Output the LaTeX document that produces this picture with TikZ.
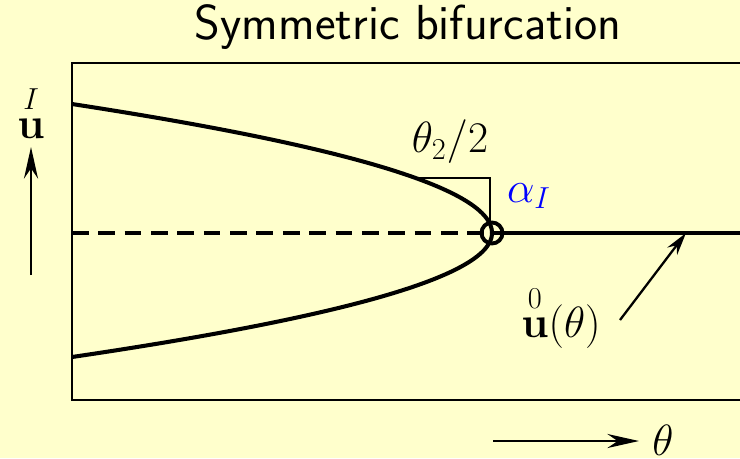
\documentclass[tikz,border=0pt]{standalone}
\usepackage{amsmath,amssymb}
\usepackage{xcolor}
\usepackage{tikz}
\usetikzlibrary{arrows.meta, positioning}
\definecolor{paper}{RGB}{255,255,204}

\begin{document}
\begin{tikzpicture}[x=0.02cm, y=-0.02cm, font=\fontsize{27}{31}\selectfont,
	branch/.style={line width=2.3pt},
	thin/.style={line width=1.3pt},
	bigarrow/.style={thin, -{Stealth[length=18pt, width=8pt]}}]
	\fill[paper] (0,0) rectangle (740,458);
	\useasboundingbox (0,0) rectangle (740,458);
	\node (title) at (408,27) {\fontsize{28}{32}\selectfont\sffamily Symmetric bifurcation};
	\draw[thin] (72,63) rectangle (750,400);
	% trivial branch
	\coordinate (alpha) at (492,233);
	\coordinate (right) at (750,233);
	\coordinate (left) at (72,233);
	\draw[branch, dash pattern=on 9.5pt off 5.5pt] (left) -- (alpha);
	\draw[branch] (alpha) -- (right);
	% bifurcated branches
	\draw[branch] plot[smooth, samples=60, domain=-1:0] ({492-420*\x*\x},{233+129*\x});
	\draw[branch] plot[smooth, samples=60, domain=0:1] ({492-420*\x*\x},{233+124*\x});
	\draw[line width=2.2pt] (alpha) circle (10.5);
	% slope
	\coordinate (s1) at (415,178);
	\coordinate (s2) at (490,178);
	\coordinate (s3) at (490,226);
	\draw[thin] (s1) -- (s2) -- (s3);
	\node (slope) at (450,142) {$\theta_2/2$};
	\node[blue] (alphaI) at (529,196) {$\alpha_I$};
	% labels
	\coordinate (ptail) at (620,320);
	\coordinate (phead) at (686,233);
	\draw[thin, -{Stealth[length=13pt, width=7pt]}] (ptail) -- (phead);
	\node (u0) at (561,316) {$\overset{0}{\mathbf{u}}(\theta)$};
	\coordinate (ya) at (31,275);
	\coordinate (yb) at (31,147);
	\draw[bigarrow] (ya) -- (yb);
	\node (uI) at (31,111) {$\overset{I}{\mathbf{u}}$};
	\coordinate (xa) at (493,441);
	\coordinate (xb) at (639,441);
	\draw[bigarrow] (xa) -- (xb);
	\node[inner sep=0.5pt] (theta) at (663,440) {$\theta$};
\end{tikzpicture}
\end{document}
